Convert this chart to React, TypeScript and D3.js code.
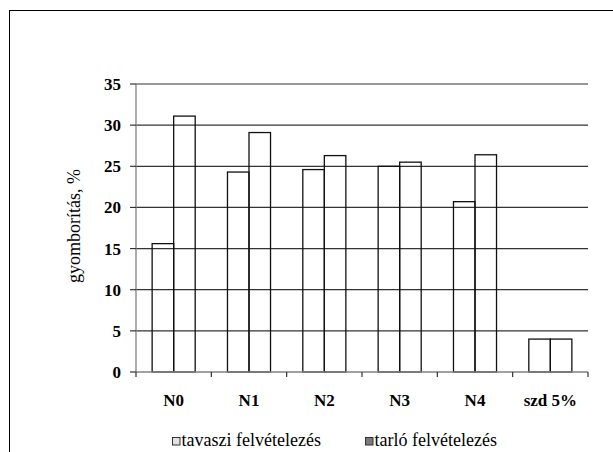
import * as d3 from 'd3';

// data
const categories = ['N0', 'N1', 'N2', 'N3', 'N4', 'szd 5%'];
const seriesNames = ['tavaszi felvételezés', 'tarló felvételezés'];
const tavaszi = [15.6, 24.3, 24.6, 25.0, 20.7, 4.0];
const tarlo = [31.1, 29.1, 26.3, 25.5, 26.4, 4.0];
const yTicks = [0, 5, 10, 15, 20, 25, 30, 35];

const W = 613;
const H = 452;
const serif = '"Liberation Serif", "Times New Roman", serif';

const App = () => {
  const x0 = d3.scaleBand<string>().domain(categories).range([136, 588]).padding(0);
  const bw = x0.bandwidth();
  const gap = (bw * 1.5) / 3.5;
  const x1 = d3.scaleBand<string>().domain(seriesNames).range([gap / 2, bw - gap / 2]).padding(0);
  const y = d3.scaleLinear().domain([0, 35]).range([372, 84]);

  const values = [tavaszi, tarlo];
  const legendFill = ['#e2e2e2', '#7a7a7a'];
  const legendX = [172, 365];

  return (
    <svg width={W} height={H} style={{ position: 'absolute', left: 0, top: 0, background: '#fff' }}>
      {/* outer frame, runs off the right and bottom edge */}
      <rect x={9.5} y={10.5} width={700} height={500} fill="none" stroke="#000" strokeWidth={1} />

      {/* gridlines */}
      {yTicks.filter(t => t > 0).map(t => (
        <line key={'g' + t} x1={136} x2={588} y1={y(t)} y2={y(t)} stroke="#333" strokeWidth={1.2} />
      ))}

      {/* y axis */}
      <line x1={136} x2={136} y1={y(35)} y2={y(0)} stroke="#808080" strokeWidth={1.3} />
      {yTicks.map(t => (
        <g key={'t' + t}>
          <line x1={130} x2={136} y1={y(t)} y2={y(t)} stroke="#333" strokeWidth={1.2} />
          <text x={121} y={y(t)} dy="0.35em" textAnchor="end" fontFamily={serif} fontWeight="bold" fontSize={17}>
            {t}
          </text>
        </g>
      ))}

      <text
        transform={`translate(80,226) rotate(-90)`}
        textAnchor="middle"
        fontFamily={serif}
        fontSize={18}
      >
        gyomborítás, %
      </text>

      {/* bars */}
      {categories.map((c, i) => (
        <g key={c} transform={`translate(${x0(c)},0)`}>
          {seriesNames.map((s, k) => (
            <rect
              key={s}
              x={x1(s)}
              y={y(values[k][i])}
              width={x1.bandwidth()}
              height={y(0) - y(values[k][i])}
              fill="none"
              stroke="#111"
              strokeWidth={1.3}
            />
          ))}
        </g>
      ))}

      {/* x axis */}
      <line x1={136} x2={588} y1={y(0)} y2={y(0)} stroke="#808080" strokeWidth={1.3} />
      {[...categories.map(c => x0(c) as number), 588].map((v, i) => (
        <line key={'xt' + i} x1={v} x2={v} y1={y(0)} y2={y(0) + 5} stroke="#333" strokeWidth={1.2} />
      ))}
      {categories.map(c => (
        <text
          key={'l' + c}
          x={(x0(c) as number) + bw / 2}
          y={406}
          textAnchor="middle"
          fontFamily={serif}
          fontWeight="bold"
          fontSize={17}
        >
          {c}
        </text>
      ))}

      {/* legend */}
      {seriesNames.map((s, k) => (
        <g key={'lg' + s}>
          <rect x={legendX[k] + 0.5} y={437.5} width={7.5} height={7.5} fill={legendFill[k]} stroke="#333" strokeWidth={1} />
          <text x={legendX[k] + 9.5} y={446} fontFamily={serif} fontSize={18}>
            {s}
          </text>
        </g>
      ))}
    </svg>
  );
};

export default App;
